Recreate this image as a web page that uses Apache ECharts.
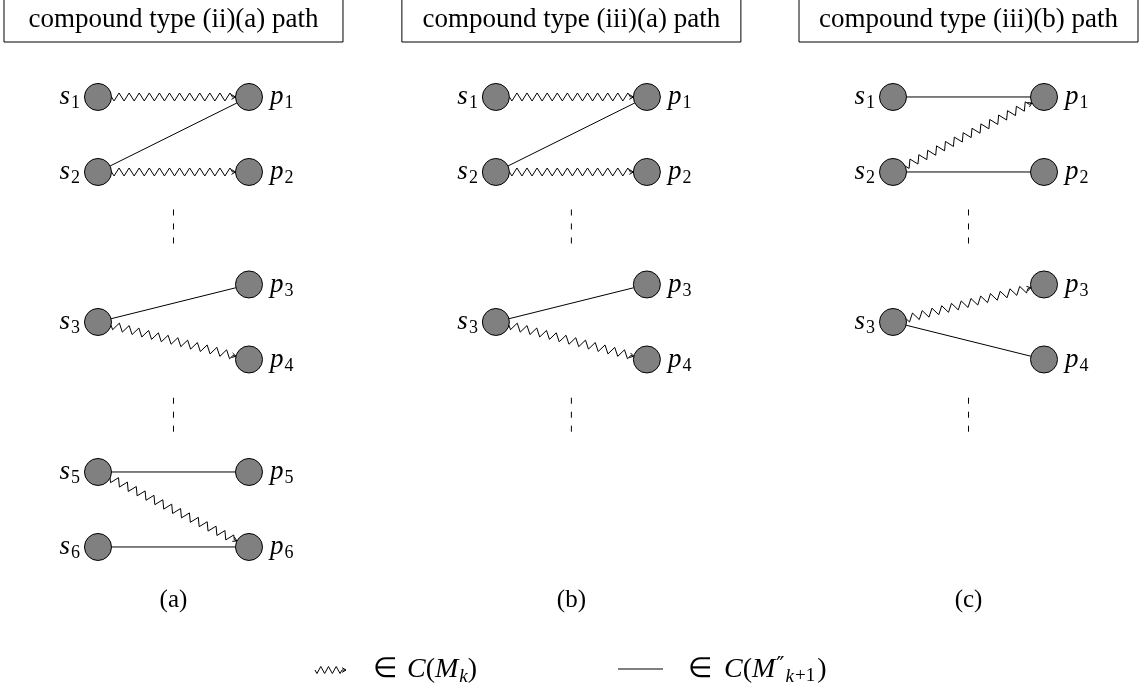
<!DOCTYPE html>
<html>
<head>
<meta charset="utf-8">
<script src="https://cdn.jsdelivr.net/npm/echarts@6/dist/echarts.min.js"></script>
<style>
  html, body { margin: 0; padding: 0; background: #fff; }
  #main { width: 1142px; height: 696px; }
</style>
</head>
<body>
<div id="main"></div>
<script>
// panels
const panelNames = ['(a)', '(b)', '(c)'];
const panelTitles = ['compound type (ii)(a) path', 'compound type (iii)(a) path', 'compound type (iii)(b) path'];
const panelOffsets = [0, 5.27, 10.53];

// nodes: [side, index, row]
const nodesA = [['s', 1, 0], ['p', 1, 0], ['s', 2, 1], ['p', 2, 1], ['p', 3, 2.5], ['s', 3, 3], ['p', 4, 3.5],
                ['s', 5, 5], ['p', 5, 5], ['s', 6, 6], ['p', 6, 6]];
const nodesB = [['s', 1, 0], ['p', 1, 0], ['s', 2, 1], ['p', 2, 1], ['p', 3, 2.5], ['s', 3, 3], ['p', 4, 3.5]];
const nodesC = [['s', 1, 0], ['p', 1, 0], ['s', 2, 1], ['p', 2, 1], ['p', 3, 2.5], ['s', 3, 3], ['p', 4, 3.5]];

// edges: [from, to, kind]  kind 1 = zigzag (C(M_k)), 0 = straight (C(M''_{k+1}))
const edgesA = [['s1', 'p1', 1], ['s2', 'p1', 0], ['s2', 'p2', 1], ['s3', 'p3', 0], ['s3', 'p4', 1],
                ['s5', 'p5', 0], ['s5', 'p6', 1], ['s6', 'p6', 0]];
const edgesB = [['s1', 'p1', 1], ['s2', 'p1', 0], ['s2', 'p2', 1], ['s3', 'p3', 0], ['s3', 'p4', 1]];
const edgesC = [['s1', 'p1', 0], ['s2', 'p1', 1], ['s2', 'p2', 0], ['s3', 'p3', 1], ['s3', 'p4', 0]];

// vertical dots between groups: [rowFrom, rowTo]
const gapsA = [[1.5, 2.03], [4.01, 4.53]];
const gapsB = [[1.5, 2.03], [4.01, 4.53]];
const gapsC = [[1.5, 2.03], [4.01, 4.53]];

const labelRow = 6.71;
const panelNodes = [nodesA, nodesB, nodesC];
const panelEdges = [edgesA, edgesB, edgesC];
const panelGaps = [gapsA, gapsB, gapsC];

const FONT = 'Liberation Serif';
const R = 13.5;

function colOf(side) { return side === 's' ? 0 : 2; }

// build series data
var nodeData = [], edgeData = [], gapData = [], panelData = [];
panelNodes.forEach(function (nodes, k) {
  var pos = {};
  nodes.forEach(function (n) {
    var x = panelOffsets[k] + colOf(n[0]);
    pos[n[0] + n[1]] = [x, n[2]];
    nodeData.push({
      value: [x, n[2]], side: n[0], idx: n[1],
      label: { position: n[0] === 's' ? 'left' : 'right', distance: n[0] === 's' ? 4 : 7 }
    });
  });
  panelEdges[k].forEach(function (e) {
    var a = pos[e[0]], b = pos[e[1]];
    edgeData.push([a[0], a[1], b[0], b[1], e[2]]);
  });
  panelGaps[k].forEach(function (g) {
    gapData.push([panelOffsets[k] + 1, g[0], g[1]]);
  });
  panelData.push([panelOffsets[k] + 1, labelRow, k]);
});

function zigzagPoints(a, b, amp, half, tail) {
  var dx = b[0] - a[0], dy = b[1] - a[1];
  var len = Math.sqrt(dx * dx + dy * dy);
  var ux = dx / len, uy = dy / len, nx = -uy, ny = ux;
  var body = len - tail;
  var n = Math.max(2, Math.round(body / half));
  var step = body / n;
  var pts = [[a[0], a[1]]];
  for (var i = 0; i < n; i++) {
    var t = (i + 0.5) * step, s = (i % 2 === 0 ? 1 : -1) * amp;
    pts.push([a[0] + ux * t + nx * s, a[1] + uy * t + ny * s]);
  }
  pts.push([a[0] + ux * body, a[1] + uy * body]);
  pts.push([b[0], b[1]]);
  return pts;
}

function arrowTip(a, b, size) {
  var dx = b[0] - a[0], dy = b[1] - a[1];
  var len = Math.sqrt(dx * dx + dy * dy);
  var ux = dx / len, uy = dy / len, nx = -uy, ny = ux;
  return [
    [b[0] - ux * size + nx * size * 0.6, b[1] - uy * size + ny * size * 0.6],
    [b[0], b[1]],
    [b[0] - ux * size - nx * size * 0.6, b[1] - uy * size - ny * size * 0.6]
  ];
}

function zigPath(a, b) {
  return [
    { type: 'polyline', shape: { points: zigzagPoints(a, b, 4, 5, 3) }, style: { stroke: '#000', fill: null, lineWidth: 1 } },
    { type: 'polyline', shape: { points: arrowTip(a, b, 4) }, style: { stroke: '#000', fill: null, lineWidth: 1 } }
  ];
}

var chart = echarts.init(document.getElementById('main'));
chart.setOption({
  backgroundColor: '#fff',
  animation: false,
  grid: { left: 0, right: 0, top: 0, bottom: 0 },
  xAxis: { type: 'value', min: -1.298, max: 13.828, show: false },
  yAxis: { type: 'value', min: -1.293, max: 7.987, inverse: true, show: false },
  series: [
    {
      type: 'custom',
      name: 'edges',
      z: 1,
      data: edgeData,
      encode: { x: [0, 2], y: [1, 3] },
      renderItem: function (params, api) {
        var a = api.coord([api.value(0), api.value(1)]);
        var b = api.coord([api.value(2), api.value(3)]);
        var dx = b[0] - a[0], dy = b[1] - a[1];
        var len = Math.sqrt(dx * dx + dy * dy);
        var ux = dx / len, uy = dy / len;
        var a2 = [a[0] + ux * R, a[1] + uy * R], b2 = [b[0] - ux * R, b[1] - uy * R];
        if (api.value(4) === 1) {
          return { type: 'group', children: zigPath(a2, b2) };
        }
        return {
          type: 'line',
          shape: { x1: a2[0], y1: a2[1], x2: b2[0], y2: b2[1] },
          style: { stroke: '#000', lineWidth: 1 }
        };
      }
    },
    {
      type: 'custom',
      name: 'gaps',
      z: 1,
      data: gapData,
      encode: { x: 0, y: [1, 2] },
      renderItem: function (params, api) {
        var a = api.coord([api.value(0), api.value(1)]);
        var b = api.coord([api.value(0), api.value(2)]);
        return {
          type: 'line',
          shape: { x1: a[0], y1: a[1], x2: b[0], y2: b[1] },
          style: { stroke: '#000', lineWidth: 1, lineDash: [6, 8] }
        };
      }
    },
    {
      type: 'custom',
      name: 'panels',
      z: 1,
      data: panelData,
      encode: { x: 0, y: 1 },
      renderItem: function (params, api) {
        var c = api.coord([api.value(0), api.value(1)]);
        var k = api.value(2);
        return {
          type: 'group',
          children: [
            {
              type: 'rect',
              shape: { x: c[0] - 169.5, y: -2, width: 339, height: 44 },
              style: { stroke: '#000', fill: '#fff', lineWidth: 1 }
            },
            {
              type: 'text',
              style: { text: panelTitles[k], x: c[0], y: 20, align: 'center', verticalAlign: 'middle',
                       font: '27px "' + FONT + '"', fill: '#000' }
            },
            {
              type: 'text',
              style: { text: panelNames[k], x: c[0], y: c[1], align: 'center', verticalAlign: 'middle',
                       font: '25px "' + FONT + '"', fill: '#000' }
            }
          ]
        };
      }
    },
    {
      type: 'scatter',
      name: 'nodes',
      z: 3,
      symbol: 'circle',
      symbolSize: 27,
      data: nodeData,
      itemStyle: { color: '#808080', borderColor: '#000', borderWidth: 1, opacity: 1 },
      label: {
        show: true,
        formatter: function (p) { return '{i|' + p.data.side + '}{d|' + p.data.idx + '}'; },
        rich: {
          i: { fontFamily: FONT, fontStyle: 'italic', fontSize: 27, color: '#000' },
          d: { fontFamily: FONT, fontSize: 18, color: '#000', padding: [13, 0, 0, 1] }
        }
      },
      emphasis: { disabled: true }
    }
  ],
  graphic: [
    {
      type: 'group',
      children: [
        { type: 'polyline', shape: { points: zigzagPoints([315, 670], [346, 670], 3.5, 4, 4) },
          style: { stroke: '#000', fill: null, lineWidth: 1 } },
        { type: 'polyline', shape: { points: arrowTip([315, 670], [346, 670], 4) },
          style: { stroke: '#000', fill: null, lineWidth: 1 } },
        { type: 'text', x: 373, y: 670,
          style: { text: '{e|∈}{i|C}{r|(}{i|M}{d|k}{r|)}', verticalAlign: 'middle',
                   rich: {
                     e: { fontFamily: FONT, fontSize: 28, fill: '#000', padding: [0, 10, 0, 0] },
                     r: { fontFamily: FONT, fontSize: 28, fill: '#000' },
                     i: { fontFamily: FONT, fontStyle: 'italic', fontSize: 28, fill: '#000' },
                     d: { fontFamily: FONT, fontStyle: 'italic', fontSize: 19, fill: '#000', padding: [13, 0, 0, 1] }
                   } } },
        { type: 'line', shape: { x1: 618, y1: 669, x2: 663, y2: 669 }, style: { stroke: '#000', lineWidth: 1 } },
        { type: 'text', x: 688, y: 670,
          style: { text: '{e|∈}{i|C}{r|(}{i|M}{u|″}{d|k}{n|+1}{r|)}', verticalAlign: 'middle',
                   rich: {
                     e: { fontFamily: FONT, fontSize: 28, fill: '#000', padding: [0, 12, 0, 0] },
                     r: { fontFamily: FONT, fontSize: 28, fill: '#000' },
                     i: { fontFamily: FONT, fontStyle: 'italic', fontSize: 28, fill: '#000' },
                     u: { fontFamily: 'DejaVu Serif', fontSize: 22, fill: '#000', padding: [0, 1, 8, 1] },
                     d: { fontFamily: FONT, fontStyle: 'italic', fontSize: 19, fill: '#000', padding: [13, 1, 0, 0] },
                     n: { fontFamily: FONT, fontSize: 19, fill: '#000', padding: [13, 2, 0, 0] }
                   } } }
      ]
    }
  ]
});
</script>
</body>
</html>
